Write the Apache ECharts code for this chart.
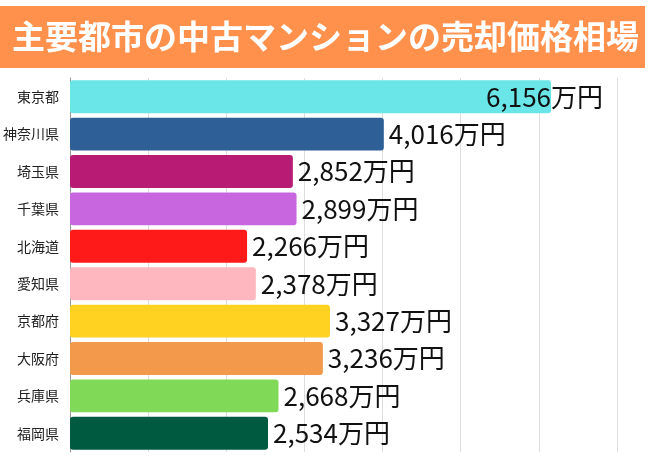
<!DOCTYPE html>
<html>
<head>
<meta charset="utf-8">
<script src="https://cdn.jsdelivr.net/npm/echarts@6/dist/echarts.min.js"></script>
<style>
html,body{margin:0;padding:0;background:#fff;}
#main{width:650px;height:456px;}
</style>
</head>
<body>
<div id="main"></div>
<script>
var titleText = '主要都市の中古マンションの売却価格相場';
var categories = ['東京都','神奈川県','埼玉県','千葉県','北海道','愛知県','京都府','大阪府','兵庫県','福岡県'];
var prices = [6156, 4016, 2852, 2899, 2266, 2378, 3327, 3236, 2668, 2534];
var barColors = ['#6AE6E8','#2E5F97','#B81B74','#C866E0','#FF1A1A','#FFB7BF','#FFD222','#F2994B','#80DA58','#005A40'];
var unit = '万円';

var chart = echarts.init(document.getElementById('main'), null, {renderer: 'canvas'});

var seriesData = prices.map(function (v, i) {
  var item = { value: v, itemStyle: { color: barColors[i] } };
  if (i === 0) {
    item.label = { position: 'insideRight', offset: [57, 0] };
  }
  return item;
});

chart.setOption({
  animation: false,
  backgroundColor: '#ffffff',
  graphic: [{
    type: 'rect',
    shape: { x: 0, y: 6, width: 645, height: 62 },
    style: { fill: '#FF914D' },
    z: 0
  }, {
    type: 'text',
    left: 12,
    top: 20,
    style: {
      text: titleText,
      fill: '#ffffff',
      font: 'bold 33px "Noto Sans CJK JP"'
    },
    z: 1
  }],
  grid: { left: 69, right: 33, top: 78, bottom: 4, containLabel: false },
  xAxis: {
    type: 'value',
    min: 0,
    max: 7000,
    interval: 1000,
    axisLabel: { show: false },
    axisLine: { show: false },
    axisTick: { show: false },
    splitLine: { show: true, lineStyle: { color: '#dddddd', width: 1 } }
  },
  yAxis: {
    type: 'category',
    data: categories,
    inverse: true,
    axisLine: { show: true, lineStyle: { color: '#999999', width: 1 } },
    axisTick: { show: false },
    axisLabel: {
      color: '#222222',
      fontSize: 14,
      fontFamily: '"Noto Sans CJK JP"',
      margin: 11
    }
  },
  series: [{
    type: 'bar',
    data: seriesData,
    barCategoryGap: '12%',
    itemStyle: { borderRadius: 3 },
    label: {
      show: true,
      position: 'right',
      distance: 5,
      color: '#111111',
      fontSize: 26,
      fontFamily: '"Noto Sans CJK JP"',
      formatter: function (p) {
        return p.value.toLocaleString('en-US') + unit;
      }
    }
  }]
});
</script>
</body>
</html>
